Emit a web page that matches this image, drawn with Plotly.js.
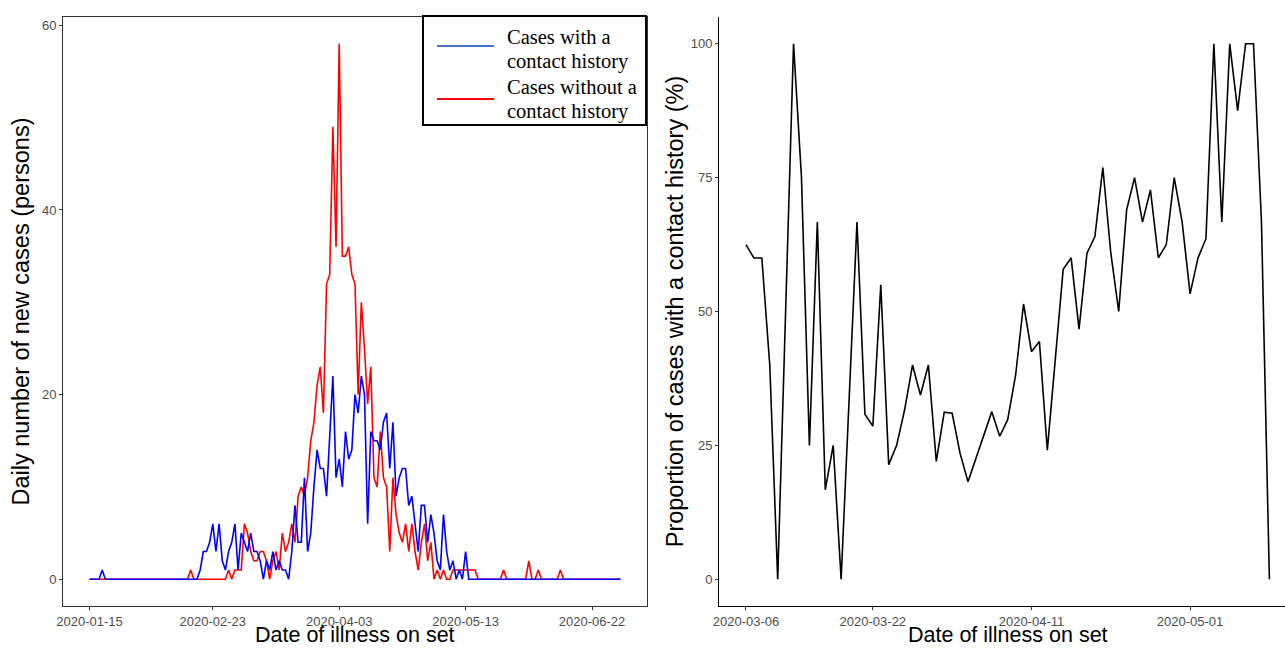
<!DOCTYPE html>
<html>
<head>
<meta charset="utf-8">
<script src="https://cdn.plot.ly/plotly-3.0.1.min.js"></script>
<style>html,body{margin:0;padding:0;background:#fff;}#chart{width:1285px;height:648px;}</style>
</head>
<body>
<div id="chart"></div>
<script>
// ---- Left panel: daily new cases, one value per day from 2020-01-15 ----
const dailyStart = '2020-01-15';
const withContact = [
  0,0,0,0,1,0,0,0,0,0,
  0,0,0,0,0,0,0,0,0,0,
  0,0,0,0,0,0,0,0,0,0,
  0,0,0,0,0,1,3,3,4,6,
  3,6,2,1,3,4,6,1,5,4,
  3,5,3,3,2,0,2,1,3,1,
  2,1,1,0,3,8,4,4,11,3,
  5,10,14,12,12,9,15,22,11,13,
  10,16,13,14,20,18,22,20,6,16,
  15,15,14,17,18,12,17,9,11,12,
  12,8,9,6,3,8,8,4,7,5,
  2,1,7,3,1,2,0,1,0,3,
  0,0,0,0,0,0,0,0,0,0,
  0,0,0,0,0,0,0,0,0,0,
  0,0,0,0,0,0,0,0,0,0,
  0,0,0,0,0,0,0,0,0,0,
  0,0,0,0,0,0,0,0,0
];
const withoutContact = [
  0,0,0,0,0,0,0,0,0,0,
  0,0,0,0,0,0,0,0,0,0,
  0,0,0,0,0,0,0,0,0,0,
  0,0,1,0,0,0,0,0,0,0,
  0,0,0,0,1,0,1,1,1,6,
  5,3,2,2,3,3,2,0,2,3,
  1,5,3,4,6,4,9,10,9,11,
  15,17,21,23,18,32,33,49,36,58,
  35,35,36,33,32,20,30,25,19,23,
  11,10,16,11,10,3,11,7,5,4,
  6,3,6,3,1,4,6,2,4,0,
  1,0,1,0,0,1,1,1,1,1,
  1,1,1,0,0,0,0,0,0,0,
  0,1,0,0,0,0,0,0,0,2,
  0,0,1,0,0,0,0,0,0,1,
  0,0,0,0,0,0,0,0,0,0,
  0,0,0,0,0,0,0,0,0
];
const leftTicks = ['2020-01-15','2020-02-23','2020-04-03','2020-05-13','2020-06-22'];
const leftYTicks = [0, 20, 40, 60];
const legendLines = [['Cases with a', 'contact history'], ['Cases without a', 'contact history']];

// ---- Right panel: proportion of cases with a contact history ----
const propDates = [
  '2020-03-06','2020-03-07','2020-03-08','2020-03-09','2020-03-10','2020-03-12','2020-03-13','2020-03-14',
  '2020-03-15','2020-03-16','2020-03-17','2020-03-18','2020-03-20','2020-03-21','2020-03-22','2020-03-23',
  '2020-03-24','2020-03-25','2020-03-26','2020-03-27','2020-03-28','2020-03-29','2020-03-30','2020-03-31',
  '2020-04-01','2020-04-02','2020-04-03','2020-04-04','2020-04-06','2020-04-07','2020-04-08','2020-04-09',
  '2020-04-10','2020-04-11','2020-04-12','2020-04-13','2020-04-15','2020-04-16','2020-04-17','2020-04-18',
  '2020-04-19','2020-04-20','2020-04-21','2020-04-22','2020-04-23','2020-04-24','2020-04-25','2020-04-26',
  '2020-04-27','2020-04-28','2020-04-29','2020-04-30','2020-05-01','2020-05-02','2020-05-03','2020-05-04',
  '2020-05-05','2020-05-06','2020-05-07','2020-05-08','2020-05-09','2020-05-10','2020-05-11'
];
const propValues = [
  62.5,60,60,40,0,100,75,25,
  66.7,16.7,25,0,66.7,30.8,28.6,55,
  21.4,25,31.6,40,34.4,40,22,31.2,
  31,23.5,18.2,22.5,31.3,26.7,29.8,38.1,
  51.4,42.5,44.4,24.1,57.9,60,46.7,60.9,
  64,76.9,61,50,69,75,66.7,72.7,
  60,62.5,75,66.7,53.3,60,63.6,100,
  66.7,100,87.5,100,100,66.7,0
];
const rightTicks = ['2020-03-06','2020-03-22','2020-04-11','2020-05-01'];
const rightYTicks = [0, 25, 50, 75, 100];
const xTitle = 'Date of illness on set';

// category axis for the daily series
const dailyDates = [];
{
  const d0 = new Date(dailyStart + 'T00:00:00Z');
  for (let i = 0; i < withContact.length; i++) {
    const d = new Date(d0.getTime() + i * 86400000);
    dailyDates.push(d.toISOString().slice(0, 10));
  }
}

const W = 1285, H = 648, MT = 17, MB = 42;
const sans = 'Liberation Sans, Arial, sans-serif';
const serif = 'Liberation Serif, Times New Roman, serif';

const traces = [
  { x: dailyDates, y: withoutContact, type: 'scatter', mode: 'lines', name: legendLines[1].join(' '),
    line: { color: '#FF0000', width: 1.6 }, xaxis: 'x', yaxis: 'y', showlegend: false },
  { x: dailyDates, y: withContact, type: 'scatter', mode: 'lines', name: legendLines[0].join(' '),
    line: { color: '#0000FF', width: 1.6 }, xaxis: 'x', yaxis: 'y', showlegend: false },
  { x: propDates, y: propValues, type: 'scatter', mode: 'lines', name: 'Proportion',
    line: { color: '#000000', width: 1.6 }, xaxis: 'x2', yaxis: 'y2', showlegend: false }
];

const tickfont = { family: sans, size: 13, color: '#4D4D4D' };
const axisBase = { showgrid: false, zeroline: false, ticks: 'outside', ticklen: 3, tickwidth: 1,
  tickcolor: '#333333', tickfont: tickfont, showline: true, linewidth: 1 };

// pixel -> paper fractions (paper area is inside the margins)
const px = v => v / W;
const py = v => 1 - (v - MT) / (H - MT - MB);

const legendFont = { family: serif, size: 20.5, color: '#000' };
const legendText = [
  [legendLines[0][0], 37], [legendLines[0][1], 61],
  [legendLines[1][0], 87], [legendLines[1][1], 112]
].map(([t, y]) => ({ text: t, xref: 'paper', yref: 'paper', x: px(505), y: py(y),
  xanchor: 'left', yanchor: 'middle', showarrow: false, font: legendFont }));

const xTitleFont = { family: sans, size: 21.5, color: '#000' };
const xTitles = [355, 1007.5].map(cx => ({ text: xTitle, xref: 'paper', yref: 'paper',
  x: px(cx), y: py(635), xanchor: 'center', yanchor: 'middle', showarrow: false, font: xTitleFont }));

const layout = {
  width: W, height: H,
  margin: { l: 0, r: 0, t: MT, b: MB, pad: 0 },
  paper_bgcolor: '#FFFFFF', plot_bgcolor: '#FFFFFF',
  showlegend: false,
  xaxis: Object.assign({}, axisBase, {
    domain: [px(63), px(647)], type: 'date',
    range: ['2020-01-06 14:24', '2020-07-09 09:36'],
    tickmode: 'array', tickvals: leftTicks, ticktext: leftTicks,
    linecolor: '#333333', mirror: true, anchor: 'y'
  }),
  yaxis: Object.assign({}, axisBase, {
    range: [-2.9, 60.9], tickmode: 'array', tickvals: leftYTicks,
    linecolor: '#333333', mirror: true, anchor: 'x',
    title: { text: 'Daily number of new cases (persons)', font: { family: sans, size: 23.5, color: '#000' }, standoff: 5 }
  }),
  xaxis2: Object.assign({}, axisBase, {
    domain: [px(719), 1], type: 'date',
    range: ['2020-03-02 14:24', '2020-05-12 23:15'],
    tickmode: 'array', tickvals: rightTicks, ticktext: rightTicks,
    linecolor: '#000000', anchor: 'y2'
  }),
  yaxis2: Object.assign({}, axisBase, {
    range: [-5, 105], tickmode: 'array', tickvals: rightYTicks,
    linecolor: '#000000', anchor: 'x2',
    title: { text: 'Proportion of cases with a contact history (%)', font: { family: sans, size: 23.5, color: '#000' }, standoff: 0 }
  }),
  shapes: [
    { type: 'rect', xref: 'paper', yref: 'paper', x0: px(423), x1: px(646), y0: py(125), y1: py(16),
      line: { color: '#000000', width: 2 }, fillcolor: '#FFFFFF', layer: 'above' },
    { type: 'line', xref: 'paper', yref: 'paper', x0: px(437), x1: px(494), y0: py(46), y1: py(46),
      line: { color: '#4472C4', width: 2 }, layer: 'above' },
    { type: 'line', xref: 'paper', yref: 'paper', x0: px(437), x1: px(494), y0: py(99), y1: py(99),
      line: { color: '#FF0000', width: 2 }, layer: 'above' }
  ],
  annotations: legendText.concat(xTitles)
};

Plotly.newPlot('chart', traces, layout, { displayModeBar: false, staticPlot: true });
</script>
</body>
</html>
